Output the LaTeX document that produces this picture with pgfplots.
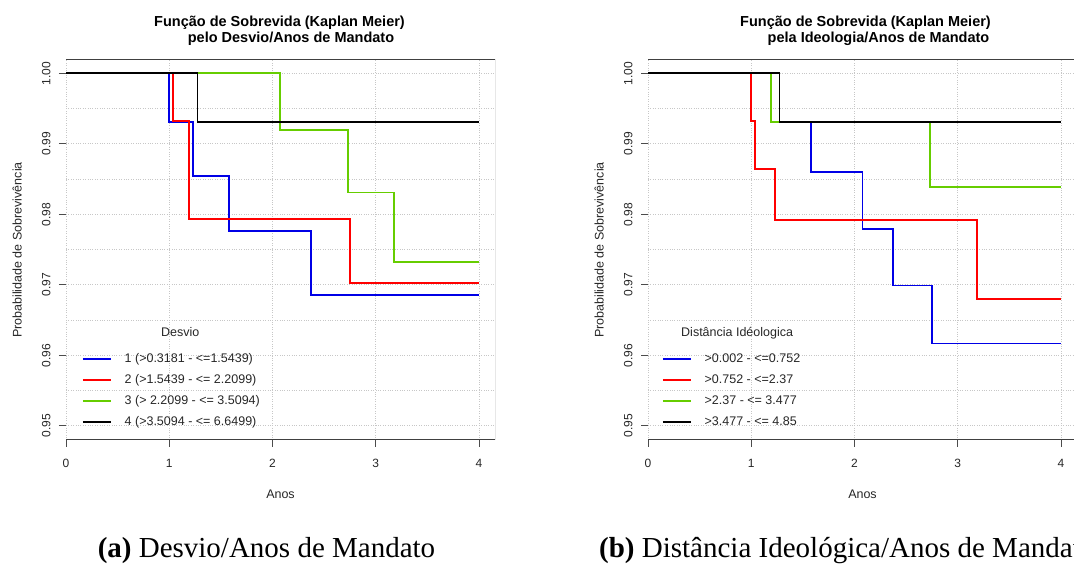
\documentclass[border=0pt]{standalone}
\usepackage{fontspec}
\setmainfont{Liberation Sans}
\newfontfamily\capfont{Liberation Serif}
\usepackage{pgfplots}
\pgfplotsset{compat=1.18}
\definecolor{kmblue}{HTML}{0000E6}
\definecolor{kmred}{HTML}{FF0000}
\definecolor{kmgreen}{HTML}{66CD00}
\pgfplotsset{kmaxis/.style={
  scale only axis, width=429pt, height=380pt,
  xmin=0, xmax=4.155, ymin=0.948, ymax=1.0019,
  xtick={0,1,2,3,4},
  ytick={0.95,0.96,0.97,0.98,0.99,1.00},
  yticklabels={0.95,0.96,0.97,0.98,0.99,1.00},
  minor ytick={0.955,0.965,0.975,0.985,0.995},
  grid=both,
  major grid style={black!22, dotted, line width=0.8pt},
  minor grid style={black!22, dotted, line width=0.8pt},
  minor tick length=0pt,
  tick align=outside, major tick length=7pt,
  xtick pos=lower, ytick pos=left,
  tick style={black!70, line width=0.8pt},
  axis line style={draw=none},
  /pgf/number format/assume math mode=true,
  ticklabel style={font=\fontsize{12}{12}\selectfont, text=black!85},
  yticklabel style={rotate=90, anchor=south},
  xticklabel shift=9pt, yticklabel shift=5pt,
  xlabel={Anos}, ylabel={Probabilidade de Sobrevivência},
  label style={font=\fontsize{12.5}{13}\selectfont, text=black!85},
  xlabel style={at={(axis description cs:0.5,-0.142)}, anchor=center},
  ylabel style={at={(axis description cs:-0.114,0.5)}, anchor=center},
  legend cell align=left,
  legend image code/.code={\draw[##1, line width=1.5pt] (0pt,0pt) -- (28pt,0pt);},
  legend style={draw=none, fill=none, inner sep=0pt, column sep=13pt, row sep=9pt,
     font=\fontsize{12.5}{13}\selectfont, anchor=north west,
     nodes={inner sep=0pt, text height=9pt, text depth=3pt, text=black!85}},
}}
\begin{document}
\begin{tikzpicture}
% ---------------- left panel ----------------
\begin{axis}[kmaxis, at={(66pt,124pt)}, anchor=south west,
  legend style={at={(axis description cs:0.0373,0.229)}}]
\addplot[const plot, kmblue, line width=1.8pt] coordinates {(0,1) (1.00,0.9931) (1.228,0.9855) (1.576,0.9776) (2.37,0.9686) (4,0.9686)};
\addlegendentry{1 (>0.3181 - <=1.5439)}
\addplot[const plot, kmred, line width=1.8pt] coordinates {(0,1) (1.04,0.9932) (1.189,0.9793) (2.747,0.9703) (4,0.9703)};
\addlegendentry{2 (>1.5439 - <= 2.2099)}
\addplot[const plot, kmgreen, line width=1.8pt] coordinates {(0,1) (2.074,0.9920) (2.731,0.9831) (3.18,0.9732) (4,0.9732)};
\addlegendentry{3 (> 2.2099 - <= 3.5094)}
\addplot[const plot, black, line width=1.8pt] coordinates {(0,1) (1.273,0.9931) (4,0.9931)};
\addlegendentry{4 (>3.5094 - <= 6.6499)}
\draw[black!75, line width=1pt] (rel axis cs:0,0) -- (rel axis cs:1,0) -- (rel axis cs:1,1) -- (rel axis cs:0,1);
\end{axis}
% ---------------- right panel ----------------
\begin{axis}[kmaxis, at={(648pt,124pt)}, anchor=south west,
  legend style={at={(axis description cs:0.0326,0.229)}}]
\addplot[const plot, kmblue, line width=1.8pt] coordinates {(0,1) (1.273,0.9931) (1.576,0.9860) (2.077,0.9779) (2.376,0.9699) (2.754,0.9617) (4,0.9617)};
\addlegendentry{>0.002 - <=0.752}
\addplot[const plot, kmred, line width=1.8pt] coordinates {(0,1) (1.00,0.9933) (1.039,0.9864) (1.231,0.9792) (3.187,0.9680) (4,0.9680)};
\addlegendentry{>0.752 - <=2.37}
\addplot[const plot, kmgreen, line width=1.8pt] coordinates {(0,1) (1.189,0.9931) (2.734,0.9839) (4,0.9839)};
\addlegendentry{>2.37 - <= 3.477}
\addplot[const plot, black, line width=1.8pt] coordinates {(0,1) (1.273,0.9931) (4,0.9931)};
\addlegendentry{>3.477 - <= 4.85}
\draw[black!75, line width=1pt] (rel axis cs:0,0) -- (rel axis cs:1,0) -- (rel axis cs:1,1) -- (rel axis cs:0,1);
\end{axis}
% titles
\begin{scope}[every node/.style={inner sep=0pt, font=\fontsize{14.5}{15}\selectfont\bfseries}]
\node[anchor=base] at (279.5pt,537pt) {Função de Sobrevida (Kaplan Meier)};
\node[anchor=base] at (291pt,521pt) {pelo Desvio/Anos de Mandato};
\node[anchor=base] at (865.5pt,537pt) {Função de Sobrevida (Kaplan Meier)};
\node[anchor=base] at (878.5pt,521pt) {pela Ideologia/Anos de Mandato};
\end{scope}
% legend titles
\node[anchor=base west, inner sep=0pt, font=\fontsize{12.5}{13}\selectfont, text=black!85] at (161pt,227.5pt) {Desvio};
\node[anchor=base west, inner sep=0pt, font=\fontsize{12.5}{13}\selectfont, text=black!85] at (681pt,227.5pt) {Distância Idéologica};
% captions
\node[anchor=base, inner sep=0pt, font=\capfont\fontsize{29}{30}\selectfont] at (266.5pt,6pt) {\textbf{(a)} Desvio/Anos de Mandato};
\node[anchor=base west, inner sep=0pt, font=\capfont\fontsize{29}{30}\selectfont] at (599pt,6pt) {\textbf{(b)} Distância Ideológica/Anos de Mandato};
\pgfresetboundingbox
\path[use as bounding box] (0pt,0pt) rectangle (1074pt,564pt);
\end{tikzpicture}
\end{document}
